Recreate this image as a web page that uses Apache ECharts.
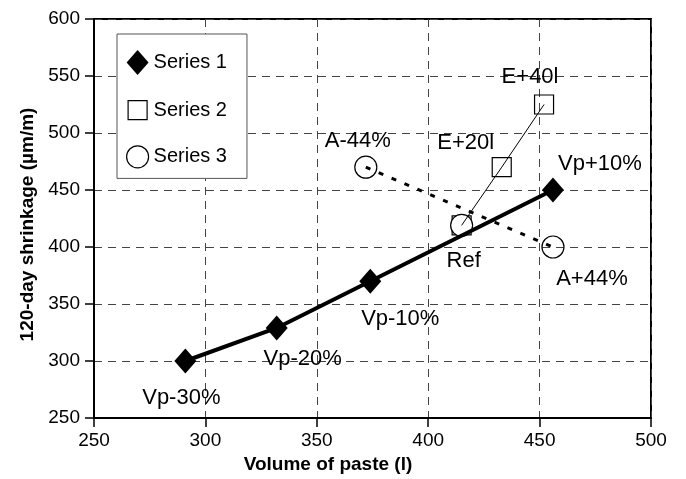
<!DOCTYPE html>
<html>
<head>
<meta charset="utf-8">
<script src="https://cdn.jsdelivr.net/npm/echarts@6/dist/echarts.min.js"></script>
<style>
html,body{margin:0;padding:0;background:#fff;}
#chart{width:686px;height:479px;}
</style>
</head>
<body>
<div id="chart"></div>
<script>
// ---- data ----
const xTicks = [250, 300, 350, 400, 450, 500];
const yTicks = [250, 300, 350, 400, 450, 500, 550, 600];
const seriesNames = ['Series 1', 'Series 2', 'Series 3'];

// Series 1: paste volume variation
const s1X = [291, 332, 374, 456];
const s1Y = [300, 329, 370, 450];
const s1Labels = ['Vp-30%', 'Vp-20%', 'Vp-10%', 'Vp+10%'];

// Reference mix (shared by Series 2 and Series 3)
const refX = [415];
const refY = [419];
const refLabels = ['Ref'];

// Series 2: extra water
const s2X = [433, 452];
const s2Y = [470, 525];
const s2Labels = ['E+20l', 'E+40l'];

// Series 3: air content
const s3X = [372, 456];
const s3Y = [470, 400];
const s3Labels = ['A-44%', 'A+44%'];

const xTitle = 'Volume of paste (l)';
const yTitle = '120-day shrinkage (µm/m)';

// ---- label placement (style, not data) ----
const s1Off = [[-4, 37], [26, 31], [30, 38], [47, -26]];
const s2Off = [[-36, -24], [-14, -28]];
const s3Off = [[-8, -26], [39, 32]];
const refOff = [[2, 36]];

const FONT = '"Liberation Sans", Arial, Helvetica, sans-serif';

function build(xs, ys, labels, offs) {
  return xs.map((x, i) => ({
    value: [x, ys[i]],
    label: {
      show: !!labels && labels[i] !== '',
      formatter: labels ? labels[i] : '',
      position: 'inside',
      offset: offs ? offs[i] : [0, 0]
    }
  }));
}

const labelStyle = {
  color: '#000',
  fontSize: 22,
  fontFamily: FONT,
  align: 'center',
  verticalAlign: 'middle',
  opacity: 1
};

const hollow = {color: 'rgba(255,255,255,0)', borderColor: '#000', borderWidth: 1.2, opacity: 1};

const refData = build(refX, refY, null, null);
const s2LineData = refData.map(d => ({value: d.value, symbol: 'none', label: {show: false}}))
  .concat(build(s2X, s2Y, s2Labels, s2Off));

const chart = echarts.init(document.getElementById('chart'), null, {renderer: 'canvas'});
const option = {
  animation: false,
  backgroundColor: '#fff',
  grid: {
    left: 94, right: 35, top: 19, bottom: 61,
    show: true, borderColor: '#000', borderWidth: 2, backgroundColor: 'transparent'
  },
  legend: {
    orient: 'vertical',
    left: 117, top: 34,
    padding: [16, 20, 10, 9],
    itemGap: 22,
    itemWidth: 22,
    itemHeight: 25,
    backgroundColor: '#fff',
    borderColor: '#555',
    borderWidth: 1,
    borderRadius: 0,
    textStyle: {color: '#000', fontSize: 20, fontFamily: FONT},
    data: [
      {name: seriesNames[0], icon: 'diamond', itemStyle: {color: '#000', borderWidth: 0, opacity: 1}},
      {name: seriesNames[1], icon: 'path://M-1.5,-3M20.5,22M0,0L19,0L19,19L0,19Z',
        itemStyle: {color: '#fff', borderColor: '#000', borderWidth: 1.2, opacity: 1}},
      {name: seriesNames[2], icon: 'circle', itemStyle: {color: '#fff', borderColor: '#000', borderWidth: 1.2, opacity: 1}}
    ]
  },
  xAxis: {
    type: 'value', min: xTicks[0], max: xTicks[xTicks.length - 1], interval: 50,
    name: xTitle, nameLocation: 'middle', nameGap: 23,
    nameTextStyle: {color: '#000', fontSize: 19, fontWeight: 'bold', fontFamily: FONT, padding: [0, 89, 0, 0]},
    axisLine: {show: true, lineStyle: {color: '#000', width: 2}},
    axisTick: {show: true, inside: false, length: 9, lineStyle: {color: '#000', width: 1.5}},
    axisLabel: {color: '#000', fontSize: 19, fontFamily: FONT, margin: 13},
    splitLine: {show: true, lineStyle: {color: '#444', width: 1, type: [8, 6]}}
  },
  yAxis: {
    type: 'value', min: yTicks[0], max: yTicks[yTicks.length - 1], interval: 50,
    name: yTitle, nameLocation: 'middle', nameGap: 57,
    nameTextStyle: {color: '#000', fontSize: 19, fontWeight: 'bold', fontFamily: FONT, padding: [0, 12, 0, 0]},
    axisLine: {show: true, lineStyle: {color: '#000', width: 2}},
    axisTick: {show: true, inside: false, length: 9, lineStyle: {color: '#000', width: 1.5}},
    axisLabel: {color: '#000', fontSize: 19, fontFamily: FONT, margin: 14},
    splitLine: {show: true, lineStyle: {color: '#444', width: 1, type: [8, 6]}}
  },
  series: [
    {
      // reference point square of Series 2 (peeks out behind the Ref circle)
      name: seriesNames[1], type: 'scatter',
      data: refData,
      symbol: 'rect', symbolSize: 19,
      itemStyle: hollow,
      z: 1
    },
    {
      // reference point circle of Series 3
      name: seriesNames[2], type: 'scatter',
      data: build(refX, refY, refLabels, refOff),
      symbol: 'circle', symbolSize: 22,
      itemStyle: {color: '#fff', borderColor: '#000', borderWidth: 1.2, opacity: 1},
      label: labelStyle,
      z: 2
    },
    {
      name: seriesNames[2], type: 'line',
      data: build(s3X, s3Y, s3Labels, s3Off),
      symbol: 'circle', symbolSize: 22,
      itemStyle: hollow,
      lineStyle: {color: '#000', width: 3, type: [5, 9]},
      label: labelStyle,
      z: 3
    },
    {
      name: seriesNames[1], type: 'line',
      data: s2LineData,
      symbol: 'rect', symbolSize: 19,
      itemStyle: hollow,
      lineStyle: {color: '#000', width: 1},
      label: labelStyle,
      z: 3
    },
    {
      name: seriesNames[0], type: 'line',
      data: build(s1X, s1Y, s1Labels, s1Off),
      symbol: 'diamond', symbolSize: [22, 25],
      itemStyle: {color: '#000'},
      lineStyle: {color: '#000', width: 4},
      label: labelStyle,
      z: 4
    }
  ]
};
chart.setOption(option);
</script>
</body>
</html>
